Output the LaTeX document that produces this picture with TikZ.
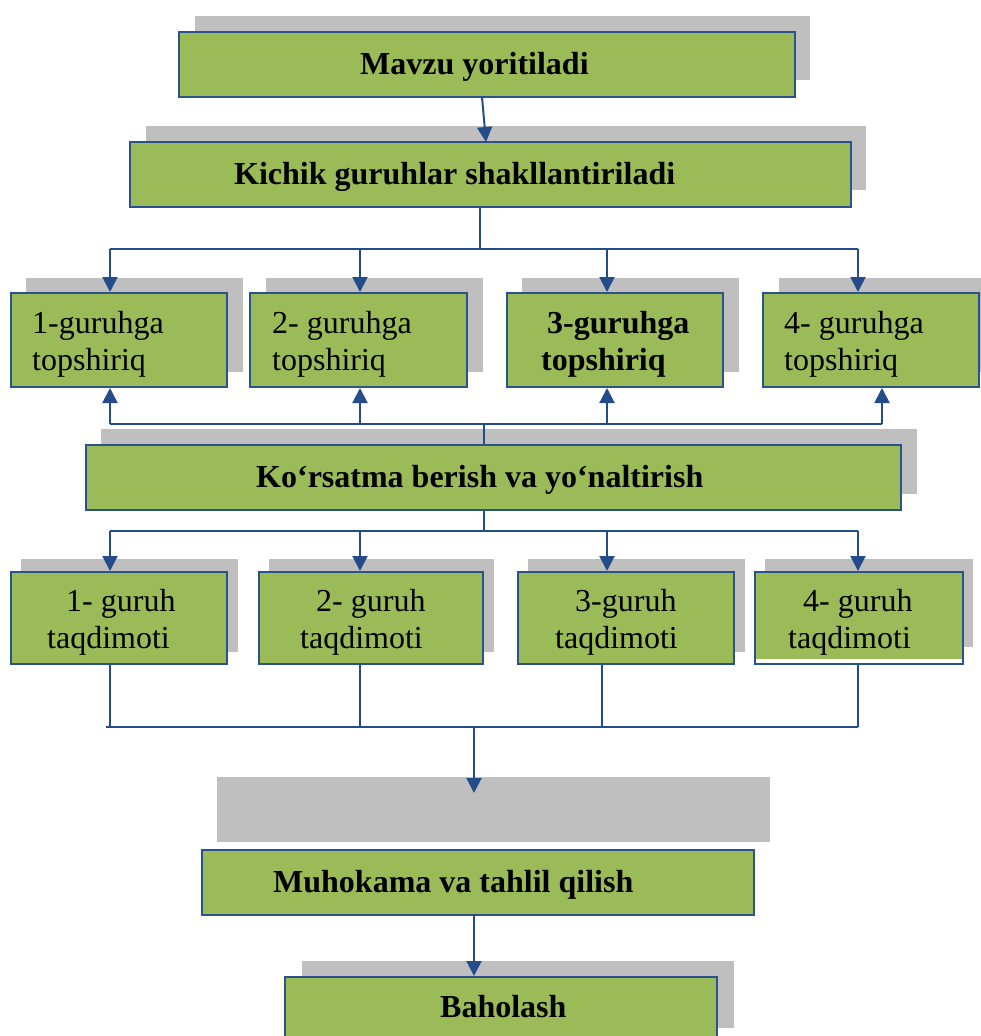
\documentclass[tikz,border=0pt]{standalone}
\usepackage{fontspec}
\setmainfont{Liberation Serif}
\usetikzlibrary{arrows.meta}
\definecolor{boxgreen}{RGB}{155,187,89}
\definecolor{boxblue}{RGB}{44,82,140}
\definecolor{shadowgray}{RGB}{191,191,191}
\definecolor{linkblue}{RGB}{36,76,138}
\tikzset{
  box/.style={draw=boxblue, line width=2pt, fill=boxgreen, rectangle, inner sep=0pt},
  shadowbox/.style={fill=shadowgray},
  ln/.style={draw=linkblue, line width=2pt},
  arr/.style={ln, -{Triangle[width=15pt,length=15pt]}},
  txt/.style={font=\fontsize{32}{37}\selectfont, inner sep=0pt, anchor=base west},
  btxt/.style={font=\fontsize{32}{37}\selectfont\bfseries, inner sep=0pt, anchor=base west},
}
% #1 name, #2 x1, #3 y1, #4 x2, #5 y2
\newcommand\flowbox[5]{%
  \node[box, minimum width={(#4-#2)*1pt}, minimum height={(#5-#3)*1pt}] (#1) at ({(#2+#4)/2},{(#3+#5)/2}) {};}
\begin{document}
\begin{tikzpicture}[x=1pt,y=-1pt]
\useasboundingbox (0,0) rectangle (981,1036);
\clip (0,0) rectangle (981,1036);
% shadows
\fill[shadowbox] (195,16) rectangle (810,80);
\fill[shadowbox] (146,126) rectangle (866,190);
\fill[shadowbox] (26,278) rectangle (243,372);
\fill[shadowbox] (266,278) rectangle (483,372);
\fill[shadowbox] (522,278) rectangle (739,372);
\fill[shadowbox] (779,278) rectangle (981,372);
\fill[shadowbox] (101,429) rectangle (917,494);
\fill[shadowbox] (21,559) rectangle (238,652);
\fill[shadowbox] (269,559) rectangle (494,652);
\fill[shadowbox] (528,559) rectangle (745,652);
\fill[shadowbox] (765,559) rectangle (973,647);
\fill[shadowbox] (217,777) rectangle (770,842);
\fill[shadowbox] (302,961) rectangle (734,1028);
% boxes
\flowbox{mavzu}{179}{32}{795}{97}
\flowbox{kichik}{130}{142}{851}{207}
\flowbox{ta}{11}{293}{227}{387}
\flowbox{tb}{250}{293}{467}{387}
\flowbox{tc}{507}{293}{723}{387}
\flowbox{td}{763}{293}{979}{387}
\flowbox{kor}{86}{445}{901}{510}
\flowbox{pa}{11}{572}{227}{664}
\flowbox{pb}{259}{572}{483}{664}
\flowbox{pc}{518}{572}{734}{664}
\node[box, fill=white, minimum width=208pt, minimum height=92pt] (pd) at (859,618) {};
\fill[boxgreen] (756,573) rectangle (962,659);
\flowbox{muh}{202}{850}{754}{915}
\flowbox{bah}{285}{977}{717}{1050}
% texts
\node[btxt] (tmavzu) at (360,74) {Mavzu yoritiladi};
\node[btxt] (tkichik) at (234,184) {Kichik guruhlar shakllantiriladi};
\node[txt] (ta1) at (32,333) {1-guruhga};
\node[txt] (ta2) at (32,370) {topshiriq};
\node[txt] (tb1) at (272,333) {2- guruhga};
\node[txt] (tb2) at (272,370) {topshiriq};
\node[btxt] (tc1) at (547,333) {3-guruhga};
\node[btxt] (tc2) at (541,370) {topshiriq};
\node[txt] (td1) at (784,333) {4- guruhga};
\node[txt] (td2) at (784,370) {topshiriq};
\node[btxt] (tkor) at (256,487) {Ko‘rsatma berish va yo‘naltirish};
\node[txt] (pa1) at (66,611) {1- guruh};
\node[txt] (pa2) at (47,648) {taqdimoti};
\node[txt] (pb1) at (316,611) {2- guruh};
\node[txt] (pb2) at (300,648) {taqdimoti};
\node[txt] (pc1) at (575,611) {3-guruh};
\node[txt] (pc2) at (555,648) {taqdimoti};
\node[txt] (pd1) at (803,611) {4- guruh};
\node[txt] (pd2) at (788,648) {taqdimoti};
\node[btxt] (tmuh) at (273,892) {Muhokama va tahlil qilish};
\node[btxt] (tbah) at (440,1017) {Baholash};
% junction coordinates
\coordinate (m1) at (482,97);
\coordinate (m2) at (486,142);
\coordinate (j1) at (480,249);
\coordinate (h1L) at (110,249);
\coordinate (h1R) at (858,249);
\coordinate (a1) at (110,249);
\coordinate (a2) at (360,249);
\coordinate (a3) at (607,249);
\coordinate (a4) at (858,249);
\coordinate (u1) at (110,424);
\coordinate (u2) at (360,424);
\coordinate (u3) at (607,424);
\coordinate (u4) at (882,424);
\coordinate (uk) at (484,424);
\coordinate (k2) at (484,531);
\coordinate (d1) at (110,531);
\coordinate (d2) at (360,531);
\coordinate (d3) at (607,531);
\coordinate (d4) at (858,531);
\coordinate (b1) at (110,727);
\coordinate (b2) at (360,727);
\coordinate (b3) at (602,727);
\coordinate (b4) at (858,727);
\coordinate (bm) at (474,727);
\coordinate (bend) at (474,793);
\coordinate (mb) at (474,915);
% connectors
\draw[arr] (m1) -- (m2);
\draw[ln] (kichik.south -| j1) -- (j1);
\draw[ln] (h1L) -- (h1R);
\draw[arr] (a1) -- (a1 |- ta.north);
\draw[arr] (a2) -- (a2 |- tb.north);
\draw[arr] (a3) -- (a3 |- tc.north);
\draw[arr] (a4) -- (a4 |- td.north);
\draw[ln] (u1) -- (u4);
\draw[arr] (u1) -- (u1 |- ta.south);
\draw[arr] (u2) -- (u2 |- tb.south);
\draw[arr] (u3) -- (u3 |- tc.south);
\draw[arr] (u4) -- (u4 |- td.south);
\draw[ln] (uk) -- (uk |- kor.north);
\draw[ln] (k2 |- kor.south) -- (k2);
\draw[ln] (d1) -- (d4);
\draw[arr] (d1) -- (d1 |- pa.north);
\draw[arr] (d2) -- (d2 |- pb.north);
\draw[arr] (d3) -- (d3 |- pc.north);
\draw[arr] (d4) -- (d4 |- pd.north);
\draw[ln] (b1 |- pa.south) -- (b1);
\draw[ln] (b2 |- pb.south) -- (b2);
\draw[ln] (b3 |- pc.south) -- (b3);
\draw[ln] (b4 |- pd.south) -- (b4);
\draw[ln] ([xshift=-4pt]b1) -- (b4);
\draw[arr] (bm) -- (bend);
\draw[arr] (mb) -- (mb |- bah.north);
\end{tikzpicture}
\end{document}
